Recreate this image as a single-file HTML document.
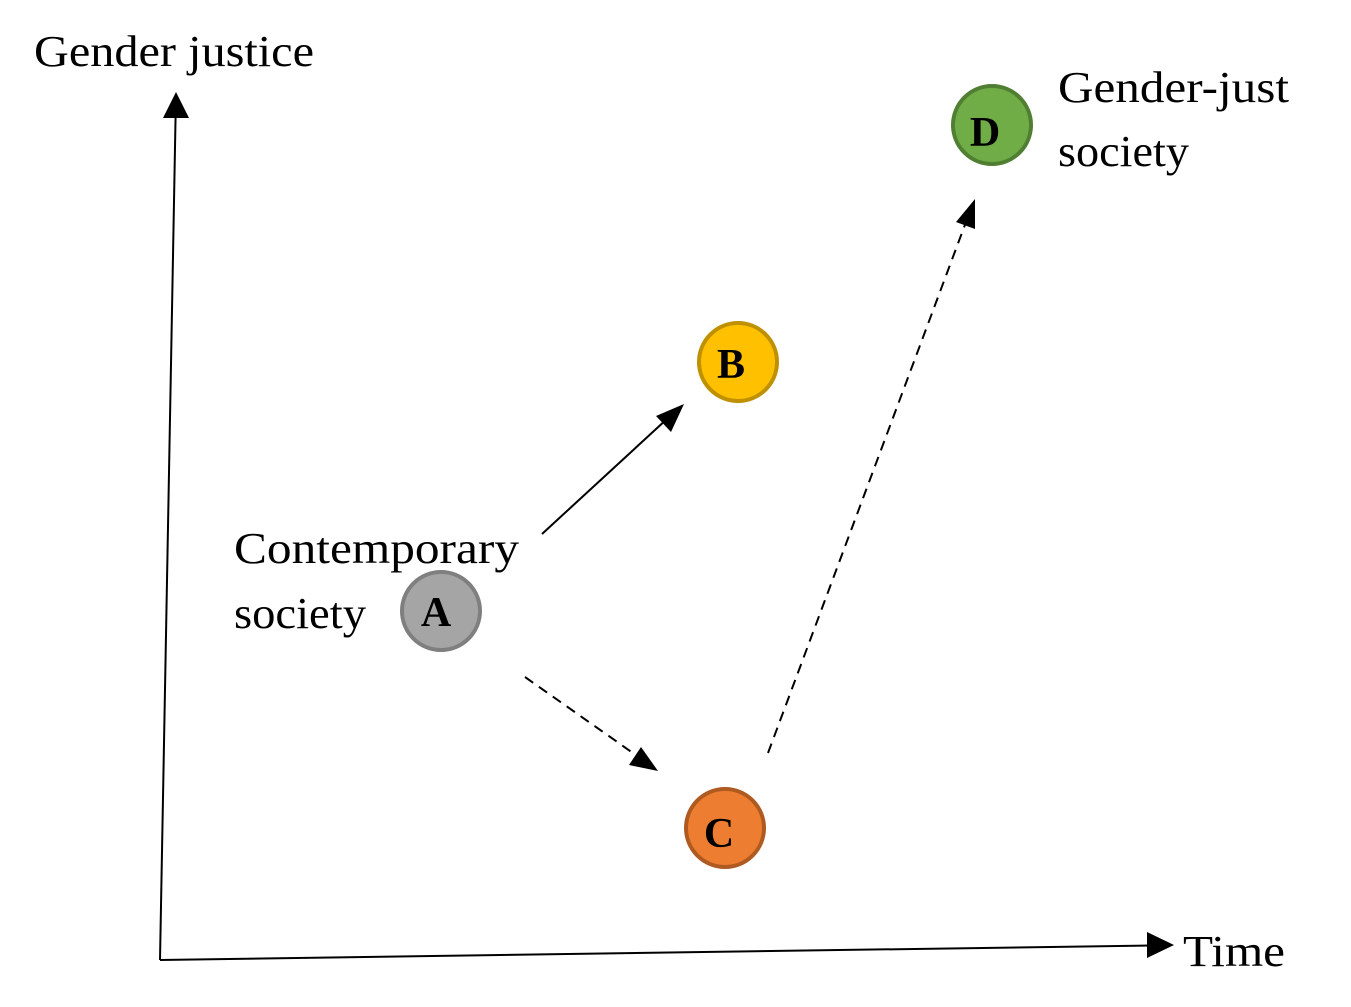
<!DOCTYPE html>
<html><head><meta charset="utf-8"><style>
html,body{margin:0;padding:0;background:#fff;}
svg{display:block;}
text{font-family:"Liberation Serif",serif;fill:#000;}
</style></head><body>
<svg width="1351" height="1007" viewBox="0 0 1351 1007" xmlns="http://www.w3.org/2000/svg">
<!-- axes -->
<line x1="160" y1="960" x2="175.6" y2="115" stroke="#000" stroke-width="2"/>
<polygon points="176,92 163,118 189,118" fill="#000"/>
<line x1="160" y1="960" x2="1150" y2="945.5" stroke="#000" stroke-width="2"/>
<polygon points="1174,945 1147,932 1147,958" fill="#000"/>
<!-- A to B solid -->
<line x1="542" y1="534" x2="668" y2="418" stroke="#000" stroke-width="2"/>
<polygon points="684,404 656,416 671,432" fill="#000"/>
<!-- A to C dashed -->
<line x1="525" y1="677" x2="640" y2="758" stroke="#000" stroke-width="2" stroke-dasharray="10,7"/>
<polygon points="658,771 641,747 629,765" fill="#000"/>
<!-- C to D dashed -->
<line x1="768" y1="753" x2="966" y2="222" stroke="#000" stroke-width="2" stroke-dasharray="10,7"/>
<polygon points="975,199 956,222 975,229" fill="#000"/>
<!-- circles -->
<circle cx="441" cy="611" r="39" fill="#a5a5a5" stroke="#7f7f7f" stroke-width="4"/>
<circle cx="738" cy="362" r="39" fill="#ffc000" stroke="#bf9000" stroke-width="4"/>
<circle cx="725" cy="828" r="39" fill="#ed7d31" stroke="#ae5a21" stroke-width="4"/>
<circle cx="992" cy="125" r="39" fill="#70ad47" stroke="#507e32" stroke-width="4"/>
<text x="436" y="626" font-size="42" font-weight="bold" text-anchor="middle">A</text>
<text x="731" y="378" font-size="42" font-weight="bold" text-anchor="middle">B</text>
<text x="719" y="847" font-size="42" font-weight="bold" text-anchor="middle">C</text>
<text x="985" y="146" font-size="42" font-weight="bold" text-anchor="middle">D</text>
<!-- labels -->
<text x="34" y="66" font-size="44" textLength="280" lengthAdjust="spacingAndGlyphs">Gender justice</text>
<text x="1183" y="966" font-size="44" textLength="102" lengthAdjust="spacingAndGlyphs">Time</text>
<text x="234" y="563" font-size="44" textLength="285" lengthAdjust="spacingAndGlyphs">Contemporary</text>
<text x="234" y="628" font-size="44" textLength="132" lengthAdjust="spacingAndGlyphs">society</text>
<text x="1058" y="102" font-size="44" textLength="231" lengthAdjust="spacingAndGlyphs">Gender-just</text>
<text x="1058" y="166" font-size="44" textLength="131" lengthAdjust="spacingAndGlyphs">society</text>
</svg>
</body></html>
